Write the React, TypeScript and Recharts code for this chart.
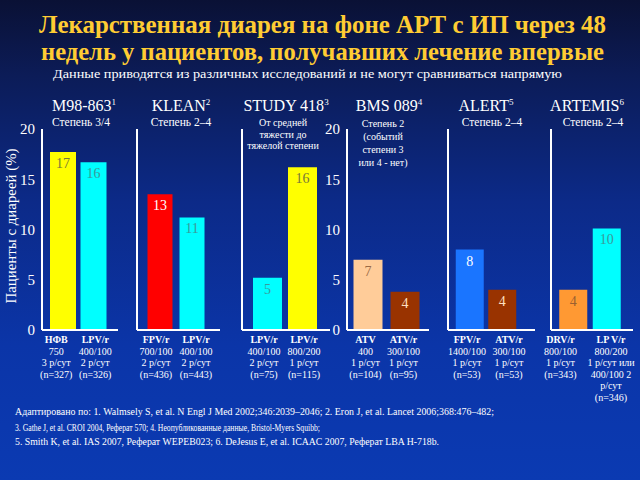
import { BarChart, Bar, XAxis, YAxis, Cell } from 'recharts'

const SERIF = "'Liberation Serif', 'DejaVu Serif', 'Times New Roman', serif"
const TXT = { fontFamily: SERIF }

// данные по исследованиям
const studyNames = ['M98-863', 'KLEAN', 'STUDY 418', 'BMS 089', 'ALERT', 'ARTEMIS']
const studyRefs = ['1', '2', '3', '4', '5', '6']
const studyGrades = [
  ['Степень 3/4'],
  ['Степень 2–4'],
  ['От средней', 'тяжести до', 'тяжелой степени'],
  ['Степень 2', '(событий', 'степени 3', 'или 4 - нет)'],
  ['Степень 2–4'],
  ['Степень 2–4'],
]
const armLabels = [
  [['НФВ', '750', '3 р/сут', '(n=327)'], ['LPV/r', '400/100', '2 р/сут', '(n=326)']],
  [['FPV/r', '700/100', '2 р/сут', '(n=436)'], ['LPV/r', '400/100', '2 р/сут', '(n=443)']],
  [['LPV/r', '400/100', '2 р/сут', '(n=75)'], ['LPV/r', '800/200', '1 р/сут', '(n=115)']],
  [['ATV', '400', '1 р/сут', '(n=104)'], ['ATV/r', '300/100', '1 р/сут', '(n=95)']],
  [['FPV/r', '1400/100', '1 р/сут', '(n=53)'], ['ATV/r', '300/100', '1 р/сут', '(n=53)']],
  [['DRV/r', '800/100', '1 р/сут', '(n=343)'], ['LP V/r', '800/200', '1 р/сут или', '400/100 2', 'р/сут', '(n=346)']],
]
// высота столбцов, как на рисунке
const armValues = [
  [17.7, 16.7],
  [13.5, 11.2],
  [5.2, 16.2],
  [7.0, 3.8],
  [8.0, 4.0],
  [4.0, 10.1],
]
// подписи на столбцах
const armPrinted = [
  ['17', '16'],
  ['13', '11'],
  ['5', '16'],
  ['7', '4'],
  ['8', '4'],
  ['4', '10'],
]
const yTicks = [0, 5, 10, 15, 20]

const footnotes = [
  'Адаптировано по: 1. Walmsely S, et al. N Engl J Med 2002;346:2039–2046; 2. Eron J, et al. Lancet 2006;368:476–482;',
  '3. Gathe J, et al. CROI 2004, Реферат 570; 4. Неопубликованные данные, Bristol-Myers Squibb;',
  '5. Smith K, et al. IAS 2007, Реферат WEPEB023; 6. DeJesus E, et al. ICAAC 2007, Реферат LBA H-718b.',
]

const YELLOW = '#ffff00'
const CYAN = '#00ffff'
const RED = '#ff0000'
const PEACH = '#ffcc99'
const BROWN = '#993300'
const BLUE = '#1a75ff'
const ORANGE = '#ff9933'

const ARM_COLORS = [
  [YELLOW, CYAN],
  [RED, CYAN],
  [CYAN, YELLOW],
  [PEACH, BROWN],
  [BLUE, BROWN],
  [ORANGE, CYAN],
]
const LABEL_COLORS = [
  ['#77773a', '#3a9a9a'],
  ['#ffffff', '#3a9a9a'],
  ['#3a9a9a', '#77773a'],
  ['#9a6a45', '#ffe0c0'],
  ['#ffffff', '#ffe0c0'],
  ['#9a6030', '#3a9a9a'],
]

// расположение панелей на слайде
const LAYOUT = [
  { axisX: 42, endX: 118, padL: 6, padR: 9, barSize: 26, headX: 84, subX: 81, ticks: true, dx: [-7, 1.5] },
  { axisX: 137, endX: 220, padL: 6.5, padR: 12.5, barSize: 25, headX: 181, subX: 181, ticks: false, dx: [-3.5, 4.5] },
  { axisX: 242, endX: 330, padL: 8, padR: 10, barSize: 29, headX: 286, subX: 283, ticks: false, dx: [-3.5, 1.5] },
  { axisX: 347, endX: 429, padL: 2.5, padR: 5.5, barSize: 29, headX: 389, subX: 383, ticks: true, dx: [-2.5, -1.5] },
  { axisX: 448, endX: 535, padL: 5.75, padR: 16.25, barSize: 28, headX: 486, subX: 492, ticks: false, dx: [-3, 6.5] },
  { axisX: 551, endX: 633, padL: 5.25, padR: 9.75, barSize: 28, headX: 587, subX: 593, ticks: false, dx: [-12.5, 4.5] },
]

const Y_W = 45
const CHART_TOP = 120

function Panel({ idx }: { idx: number }) {
  const lay = LAYOUT[idx]
  const data = armValues[idx].map((v, i) => ({
    name: `arm${i}`,
    value: v,
    printed: armPrinted[idx][i],
    lines: armLabels[idx][i],
    fill: ARM_COLORS[idx][i],
    labelFill: LABEL_COLORS[idx][i],
  }))
  const width = Y_W + (lay.endX - lay.axisX) + 4
  return (
    <div style={{ position: 'absolute', left: lay.axisX - Y_W, top: CHART_TOP }}>
      <BarChart width={width} height={290} data={data} margin={{ top: 9, right: 4, bottom: 0, left: 0 }}>
        <YAxis
          domain={[0, 20]}
          ticks={yTicks}
          width={Y_W}
          axisLine={{ stroke: '#ffffff', strokeWidth: 2 }}
          tickLine={false}
          tickSize={0}
          tickMargin={7}
          tick={lay.ticks ? { fill: '#ffffff', fontSize: 15, style: TXT } : false}
        />
        <XAxis
          dataKey="name"
          height={80}
          interval={0}
          padding={{ left: lay.padL, right: lay.padR }}
          axisLine={{ stroke: '#ffffff', strokeWidth: 2 }}
          tickLine={false}
          tick={({ x, payload }: any) => {
            const lines = data[payload.index]?.lines ?? []
            const cx = x + (lay.dx[payload.index] ?? 0)
            return (
              <text x={cx} textAnchor="middle" fill="#ffffff" fontSize={10} style={TXT}>
                {lines.map((l: string, k: number) => (
                  <tspan key={k} x={cx} y={343 - CHART_TOP + k * 11.6} fontWeight={k === 0 ? 'bold' : 'normal'}>
                    {l}
                  </tspan>
                ))}
              </text>
            )
          }}
        />
        <Bar
          dataKey="value"
          barSize={lay.barSize}
          isAnimationActive={false}
          label={(p: any) => (
            <text
              x={p.x + p.width / 2}
              y={p.y + 16}
              textAnchor="middle"
              fill={data[p.index]?.labelFill}
              fontSize={14}
              style={TXT}
            >
              {data[p.index]?.printed}
            </text>
          )}
        >
          {data.map((d, i) => (
            <Cell key={i} fill={d.fill} />
          ))}
        </Bar>
      </BarChart>
    </div>
  )
}

export default function App() {
  return (
    <div
      style={{
        position: 'absolute',
        left: 0,
        top: 0,
        width: 640,
        height: 480,
        overflow: 'hidden',
        background: 'linear-gradient(to bottom, #0a1135 0%, #0c1c58 16%, #0c2a88 42%, #0b35a8 72%, #0b3ab2 100%)',
        fontFamily: SERIF,
      }}
    >
      <svg width={640} height={480} style={{ position: 'absolute', left: 0, top: 0, fontFamily: SERIF }}>
        <text x={39} y={33} fill="#ffcc33" fontWeight="bold" fontSize={25} textLength={567} lengthAdjust="spacingAndGlyphs" style={TXT}>
          Лекарственная диарея на фоне АРТ с ИП через 48
        </text>
        <text x={41} y={60} fill="#ffcc33" fontWeight="bold" fontSize={25} textLength={563} lengthAdjust="spacingAndGlyphs" style={TXT}>
          недель у пациентов, получавших лечение впервые
        </text>
        <text x={53} y={78} fill="#ffffff" fontSize={13} textLength={509} lengthAdjust="spacingAndGlyphs" style={TXT}>
          Данные приводятся из различных исследований и не могут сравниваться напрямую
        </text>

        {studyNames.map((n, i) => (
          <text key={n} x={LAYOUT[i].headX} y={111} textAnchor="middle" fill="#ffffff" fontSize={16} style={TXT}>
            {n}
            <tspan dy={-6} fontSize={9}>
              {studyRefs[i]}
            </tspan>
          </text>
        ))}
        {studyGrades.map((g, i) =>
          g.map((line, k) => {
            const multi = g.length > 1
            const y = i === 3 ? 127 + k * 13 : multi ? 126 + k * 11.7 : 126
            return (
              <text
                key={`${i}-${k}`}
                x={LAYOUT[i].subX}
                y={y}
                textAnchor="middle"
                fill="#ffffff"
                fontSize={multi ? 10 : 11.5}
                style={TXT}
              >
                {line}
              </text>
            )
          })
        )}

        <text
          transform="translate(16, 226) rotate(-90)"
          textAnchor="middle"
          fill="#ffffff"
          fontSize={14}
          textLength={155}
          lengthAdjust="spacingAndGlyphs"
          style={TXT}
        >
          Пациенты с диареей (%)
        </text>

        {footnotes.map((f, i) => (
          <text
            key={i}
            x={15}
            y={[415, 431, 445][i]}
            fill="#ffffff"
            fontSize={10.5}
            textLength={[479, 305, 424][i]}
            lengthAdjust="spacingAndGlyphs"
            style={TXT}
          >
            {f}
          </text>
        ))}
      </svg>
      {LAYOUT.map((_, i) => (
        <Panel key={i} idx={i} />
      ))}
    </div>
  )
}
